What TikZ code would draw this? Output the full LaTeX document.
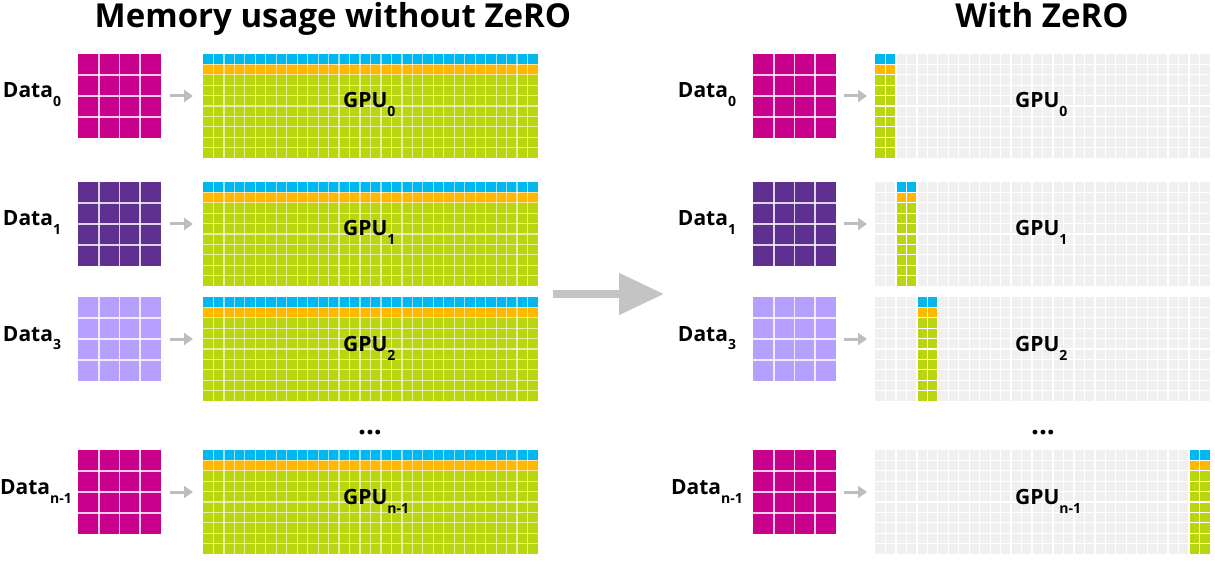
\documentclass[tikz,border=0pt]{standalone}
\usepackage{fontspec}
\setmainfont{Open Sans}
\usetikzlibrary{arrows.meta}
\definecolor{gcyan}{RGB}{0,183,240}
\definecolor{gorange}{RGB}{255,183,0}
\definecolor{ggreen}{RGB}{186,214,16}
\definecolor{ggray}{RGB}{240,240,240}
\definecolor{dmag}{RGB}{200,0,140}
\definecolor{dpurple}{RGB}{96,48,145}
\definecolor{dlight}{RGB}{182,160,255}
\definecolor{arrowgray}{RGB}{190,190,190}
\definecolor{bigarrowgray}{RGB}{196,196,196}
\def\cw{10.46875}
\def\ch{10.4}
\newcommand{\lowsub}[1]{\raisebox{-9pt}{\fontsize{14}{14}\selectfont #1}}
\newcommand{\fullgpu}[3]{%
  \node[gpubox, fill=ggreen] (#1) at (#2,#3) {};
  \fill[gcyan] (#2,#3) rectangle ++(335,\ch);
  \fill[gorange] (#2,{#3+\ch}) rectangle ++(335,\ch);
  \foreach \k in {1,...,31} \draw[gpuline] ({#2+\k*\cw},#3) -- ++(0,104);
  \foreach \k in {1,...,9} \draw[gpuline] (#2,{#3+\k*\ch}) -- ++(335,0);
}
\newcommand{\zerogpu}[4]{%
  \node[gpubox, fill=ggray] (#1) at (#2,#3) {};
  \fill[gcyan] ({#2+#4*\cw},#3) rectangle ++({2*\cw},\ch);
  \fill[gorange] ({#2+#4*\cw},{#3+\ch}) rectangle ++({2*\cw},\ch);
  \fill[ggreen] ({#2+#4*\cw},{#3+2*\ch}) rectangle ++({2*\cw},{8*\ch});
  \foreach \k in {1,...,31} \draw[zeroline] ({#2+\k*\cw},#3) -- ++(0,104);
  \foreach \k in {1,...,9} \draw[zeroline] (#2,{#3+\k*\ch}) -- ++(335,0);
}
\newcommand{\datagrid}[4]{%
  \node[databox, fill=#4] (#1) at (#2,#3) {};
  \foreach \k in {1,2,3} {
    \draw[dataline] ({#2+\k*20.75},#3) -- ++(0,84);
    \draw[dataline] (#2,{#3+\k*21}) -- ++(83,0);
  }
}
\tikzset{
  gpubox/.style={rectangle, inner sep=0pt, outer sep=0pt, minimum width=335pt, minimum height=104pt, anchor=north west, draw=none},
  databox/.style={rectangle, inner sep=0pt, outer sep=0pt, minimum width=83pt, minimum height=84pt, anchor=north west, draw=none},
  gpuline/.style={white, line width=1.2pt, opacity=0.6},
  zeroline/.style={white, line width=1.3pt},
  dataline/.style={white, line width=1.8pt, opacity=0.8},
  lbl/.style={font=\fontsize{21}{21}\selectfont\bfseries, anchor=base, inner sep=0pt},
  gpulbl/.style={font=\fontsize{21}{21}\selectfont\bfseries, anchor=base west, inner sep=0pt},
  titlelbl/.style={font=\fontsize{33}{33}\selectfont\bfseries, anchor=base, inner sep=0pt},
  dotslbl/.style={font=\fontsize{28}{28}\selectfont\bfseries, anchor=base, inner sep=0pt},
  smallarrow/.style={arrowgray, line width=3pt, -{Triangle[width=12pt,length=9pt]}},
  bigarrow/.style={bigarrowgray, line width=8pt, -{Triangle[width=40pt,length=45pt]}},
}
\begin{document}
\begin{tikzpicture}[x=1pt,y=-1pt]
\fill[white] (0,0) rectangle (1215,561);
\useasboundingbox (0,0) rectangle (1215,561);

% titles
\node[titlelbl] (tleft) at (333,28) {Memory usage without ZeRO};
\node[titlelbl] (tright) at (1042,28) {With ZeRO};

% left panel
\datagrid{dl0}{78}{54}{dmag}
\datagrid{dl1}{78}{182}{dpurple}
\datagrid{dl2}{78}{297}{dlight}
\datagrid{dl3}{78}{450}{dmag}
\fullgpu{gl0}{203}{54}
\fullgpu{gl1}{203}{182}
\fullgpu{gl2}{203}{297}
\fullgpu{gl3}{203}{450}

\node[lbl] (ldl0) at (32,98) {Data\lowsub{0}};
\node[lbl] (ldl1) at (32,226) {Data\lowsub{1}};
\node[lbl] (ldl2) at (32,341) {Data\lowsub{3}};
\node[lbl] (ldl3) at (36,494) {Data\lowsub{n-1}};

\node[gpulbl] (lgl0) at ([shift={(140pt,-2pt)}]gl0.west) {GPU\lowsub{0}};
\node[gpulbl] (lgl1) at ([shift={(140pt,-2pt)}]gl1.west) {GPU\lowsub{1}};
\node[gpulbl] (lgl2) at ([shift={(140pt,-2pt)}]gl2.west) {GPU\lowsub{2}};
\node[gpulbl] (lgl3) at ([shift={(140pt,-2pt)}]gl3.west) {GPU\lowsub{n-1}};

\foreach \i in {0,1,2,3}
  \draw[smallarrow, shorten <=9pt, shorten >=10pt] (dl\i.east) -- (dl\i.east -| gl\i.west);

\node[dotslbl] (dotsl) at (370,434) {...};

% big arrow
\coordinate (bigA) at (553,294);
\coordinate (bigB) at (664,294);
\draw[bigarrow] (bigA) -- (bigB);

% right panel
\datagrid{dr0}{753}{54}{dmag}
\datagrid{dr1}{753}{182}{dpurple}
\datagrid{dr2}{753}{297}{dlight}
\datagrid{dr3}{753}{450}{dmag}
\zerogpu{gr0}{875}{54}{0}
\zerogpu{gr1}{875}{182}{2}
\zerogpu{gr2}{875}{297}{4}
\zerogpu{gr3}{875}{450}{30}

\node[lbl] (ldr0) at (707,98) {Data\lowsub{0}};
\node[lbl] (ldr1) at (707,226) {Data\lowsub{1}};
\node[lbl] (ldr2) at (707,341) {Data\lowsub{3}};
\node[lbl] (ldr3) at (707,494) {Data\lowsub{n-1}};

\node[gpulbl] (lgr0) at ([shift={(140pt,-2pt)}]gr0.west) {GPU\lowsub{0}};
\node[gpulbl] (lgr1) at ([shift={(140pt,-2pt)}]gr1.west) {GPU\lowsub{1}};
\node[gpulbl] (lgr2) at ([shift={(140pt,-2pt)}]gr2.west) {GPU\lowsub{2}};
\node[gpulbl] (lgr3) at ([shift={(140pt,-2pt)}]gr3.west) {GPU\lowsub{n-1}};

\foreach \i in {0,1,2,3}
  \draw[smallarrow, shorten <=8pt, shorten >=8pt] (dr\i.east) -- (dr\i.east -| gr\i.west);

\node[dotslbl] (dotsr) at (1043,434) {...};
\end{tikzpicture}
\end{document}
